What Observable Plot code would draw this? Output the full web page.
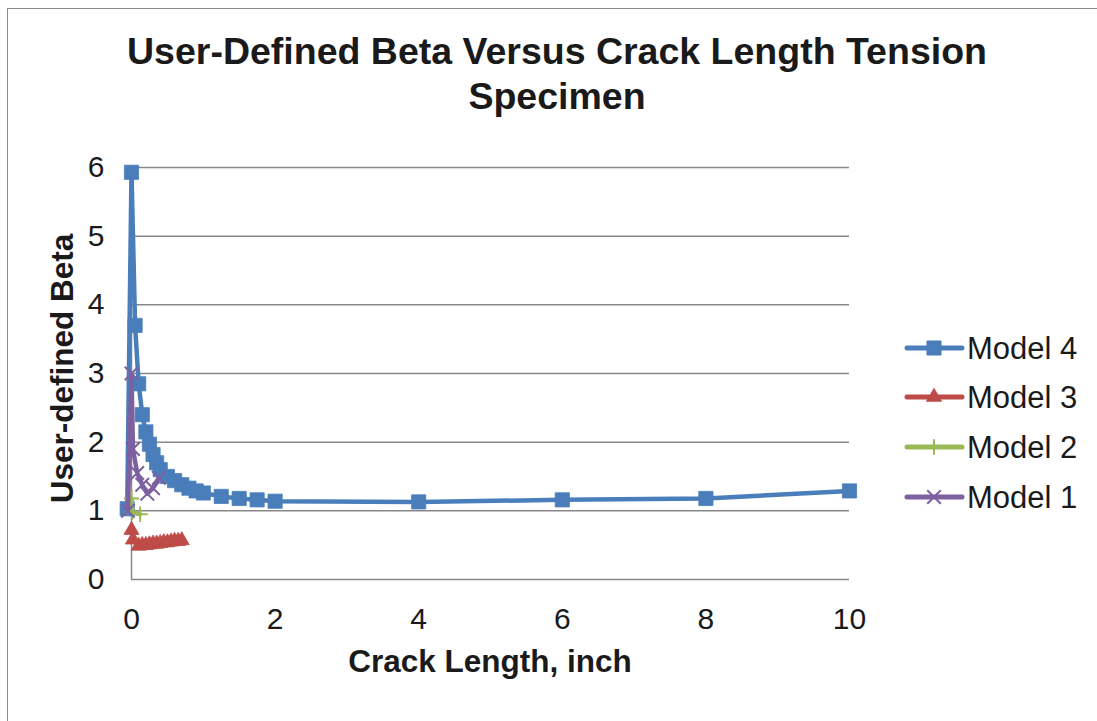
<!DOCTYPE html>
<html><head><meta charset="utf-8">
<script src="https://cdn.jsdelivr.net/npm/d3@7"></script>
<script src="https://cdn.jsdelivr.net/npm/@observablehq/plot@0.6"></script>
<style>
body{margin:0;background:#fff;font-family:"Liberation Sans",Arial,sans-serif;}
#wrap{position:relative;width:1097px;height:721px;overflow:hidden;background:#fff;}
#frame{position:absolute;left:7px;top:8px;width:1100px;height:730px;border:1.5px solid #8a8a8a;box-sizing:border-box;}
#title{position:absolute;left:0;width:1114px;top:29px;text-align:center;font-weight:bold;font-size:37.5px;line-height:45px;color:#1a1a1a;}
#xtitle{position:absolute;left:290px;width:400px;top:643px;text-align:center;font-weight:bold;font-size:31.5px;color:#1a1a1a;}
#ytitle{position:absolute;left:-138px;width:400px;top:350px;text-align:center;font-weight:bold;font-size:31.5px;color:#1a1a1a;transform:rotate(-90deg);}
#chart{position:absolute;left:0;top:0;}
#legend{position:absolute;left:0;top:0;}
</style>
</head><body>
<div id="wrap">
<div id="frame"></div>
<div id="chart"></div>
<div id="title">User-Defined Beta Versus Crack Length Tension<br>Specimen</div>
<div id="xtitle">Crack Length, inch</div>
<div id="ytitle">User-defined Beta</div>
<svg id="legend" width="1097" height="721"></svg>
</div>
<script>
// ---- data ----
const seriesNames = ["Model 4", "Model 3", "Model 2", "Model 1"];
const seriesColors = ["#4A7EBB", "#BE4B48", "#98B954", "#7D60A0"];
const seriesSymbols = ["square", "triangle", "plus", "times"];

const model4X = [-0.06, 0, 0.05, 0.1, 0.15, 0.2, 0.25, 0.3, 0.35, 0.4, 0.5, 0.6, 0.7, 0.8, 0.9, 1.0, 1.25, 1.5, 1.75, 2, 4, 6, 8, 10];
const model4Y = [1.03, 5.93, 3.7, 2.85, 2.4, 2.15, 1.97, 1.82, 1.7, 1.6, 1.5, 1.44, 1.38, 1.33, 1.29, 1.26, 1.21, 1.18, 1.16, 1.14, 1.13, 1.16, 1.18, 1.29];

const model3X = [0, 0.02, 0.1, 0.15, 0.2, 0.25, 0.3, 0.35, 0.4, 0.45, 0.5, 0.55, 0.6, 0.65, 0.7];
const model3Y = [0.72, 0.58, 0.49, 0.50, 0.50, 0.51, 0.52, 0.52, 0.53, 0.54, 0.54, 0.55, 0.56, 0.56, 0.57];

const model2X = [0, 0.01, 0.12];
const model2Y = [1.18, 0.98, 0.95];

const model1X = [-0.05, 0, 0.02, 0.08, 0.15, 0.22, 0.3, 0.38];
const model1Y = [1.0, 3.0, 1.9, 1.55, 1.38, 1.25, 1.33, 1.48];

const xTicks = [0, 2, 4, 6, 8, 10];
const yTicks = [0, 1, 2, 3, 4, 5, 6];

const toRows = (xs, ys) => xs.map((x, i) => ({x, y: ys[i]}));
const series = [
  toRows(model4X, model4Y),
  toRows(model3X, model3Y),
  toRows(model2X, model2Y),
  toRows(model1X, model1Y)
];
const dotR = [8, 5.6, 5, 6.2];

const grid = "#878787";
const marks = [
  Plot.gridY(yTicks, {stroke: grid, strokeOpacity: 1, strokeWidth: 1.5}),
  Plot.ruleX([0], {y1: 0, y2: 6, stroke: grid, strokeWidth: 1.5}),
  Plot.axisY(yTicks, {tickSize: 0, tickPadding: 27, fontSize: 30, label: null, fill: "#1a1a1a", tickFormat: d => String(d)}),
  Plot.axisX(xTicks, {tickSize: 0, tickPadding: 28, fontSize: 30, label: null, fill: "#1a1a1a", tickFormat: d => String(d)})
];
series.forEach((rows, i) => {
  marks.push(Plot.line(rows, {x: "x", y: "y", stroke: seriesColors[i], strokeWidth: 4.5, strokeLinejoin: "round"}));
  const filled = i < 2;
  marks.push(Plot.dot(rows, {
    x: "x", y: "y", symbol: () => seriesSymbols[i], r: dotR[i],
    fill: filled ? seriesColors[i] : "none",
    stroke: seriesColors[i], strokeWidth: filled ? 0.8 : 2
  }));
});

const chart = Plot.plot({
  width: 1097, height: 721,
  marginLeft: 131, marginRight: 248, marginTop: 167, marginBottom: 142,
  x: {domain: [0, 10]},
  y: {domain: [0, 6]},
  style: {fontFamily: "'Liberation Sans', Arial, sans-serif", background: "transparent", overflow: "visible"},
  marks
});
document.getElementById("chart").appendChild(chart);

// ---- legend ----
const lg = d3.select("#legend");
const symMap = {square: d3.symbolSquare, triangle: d3.symbolTriangle, plus: d3.symbolPlus, times: d3.symbolTimes};
const rowY = [348, 397, 447, 497];
seriesNames.forEach((name, i) => {
  const y = rowY[i];
  lg.append("line").attr("x1", 907).attr("x2", 962).attr("y1", y).attr("y2", y)
    .attr("stroke", seriesColors[i]).attr("stroke-width", 5).attr("stroke-linecap", "round");
  const filled = i < 2;
  lg.append("path")
    .attr("d", d3.symbol(symMap[seriesSymbols[i]], Math.PI * dotR[i] * dotR[i])())
    .attr("transform", `translate(934,${y})`)
    .attr("fill", filled ? seriesColors[i] : "none")
    .attr("stroke", seriesColors[i]).attr("stroke-width", filled ? 0.8 : 2);
  lg.append("text").attr("x", 967).attr("y", y).attr("dy", "0.36em")
    .attr("font-size", 31).attr("fill", "#1a1a1a")
    .attr("font-family", "'Liberation Sans', Arial, sans-serif").text(name);
});
</script>
</body></html>
